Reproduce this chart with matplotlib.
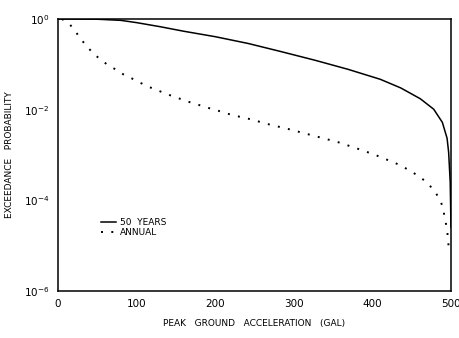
import matplotlib
matplotlib.use("Agg")
import matplotlib.pyplot as plt
import numpy as np

# Peak ground acceleration (gal) and log10 exceedance probability
pga_annual = [5, 14, 22, 28, 37, 44, 54, 63, 75, 83, 95, 105, 116, 126, 138, 148, 159,
              170, 182, 193, 205, 216, 227, 240, 251, 263, 274, 287, 298, 309, 322, 333,
              346, 359, 369, 381, 391, 404, 415, 427, 438, 450, 461, 470, 479, 485, 490,
              492, 495, 496, 497]
logp_annual = [0.0, -0.10, -0.26, -0.43, -0.60, -0.75, -0.89, -1.01, -1.13, -1.22, -1.32,
               -1.41, -1.50, -1.57, -1.65, -1.72, -1.78, -1.85, -1.91, -1.97, -2.03, -2.09,
               -2.14, -2.19, -2.24, -2.30, -2.35, -2.40, -2.45, -2.50, -2.56, -2.61, -2.67,
               -2.73, -2.79, -2.86, -2.92, -3.00, -3.08, -3.16, -3.25, -3.37, -3.49, -3.62,
               -3.79, -3.96, -4.16, -4.40, -4.62, -4.84, -5.02]

pga_50yr = [0, 50, 80, 100, 130, 160, 200, 242, 284, 327, 369, 410, 436, 461, 478, 489,
            495, 497, 499, 500]
logp_50yr = [0.0, -0.005, -0.03, -0.08, -0.17, -0.27, -0.39, -0.54, -0.72, -0.91, -1.11,
             -1.33, -1.52, -1.76, -1.99, -2.28, -2.63, -2.94, -3.6, -4.6]

x_ticks = [0, 100, 200, 300, 400, 500]
y_ticks = [1e0, 1e-2, 1e-4, 1e-6]
y_ticklabels = [r"$10^{0}$", r"$10^{-2}$", r"$10^{-4}$", r"$10^{-6}$"]

p_annual = 10.0 ** np.array(logp_annual)
p_50yr = 10.0 ** np.array(logp_50yr)

plt.rcParams['font.family'] = ['DejaVu Sans']
fig = plt.figure(figsize=(4.6, 3.38), dpi=100)
ax = fig.add_axes([58/460, 1 - 291/338, 393/460, 272/338])

ax.plot(pga_50yr, p_50yr, color='black', lw=1.1, label='50  YEARS')
ax.plot(pga_annual, p_annual, color='black', lw=1.4, linestyle=(0, (1, 4.3)),
        label='ANNUAL')

ax.set_yscale('log')
ax.set_xlim(0, 500)
ax.set_ylim(1e-6, 1e0)
ax.set_xticks(x_ticks)
ax.set_xticklabels([str(v) for v in x_ticks])
ax.set_yticks(y_ticks)
ax.set_yticklabels(y_ticklabels)
ax.yaxis.set_minor_locator(matplotlib.ticker.NullLocator())
ax.tick_params(axis='x', length=0, labelsize=7.5, pad=6)
ax.tick_params(axis='y', length=0, labelsize=7.5, pad=6)

for s in ax.spines.values():
    s.set_linewidth(1.1)

ax.set_xlabel('PEAK   GROUND   ACCELERATION   (GAL)', fontsize=6.5, labelpad=7)
ax.set_ylabel('EXCEEDANCE   PROBABILITY', fontsize=6.5, labelpad=7)

ax.legend(loc='center left', bbox_to_anchor=(0.11, 0.232), frameon=False,
          fontsize=6.5, handlelength=1.6, handletextpad=0.5, labelspacing=0.1,
          borderpad=0, borderaxespad=0)

fig.savefig('out.png', dpi=100)
